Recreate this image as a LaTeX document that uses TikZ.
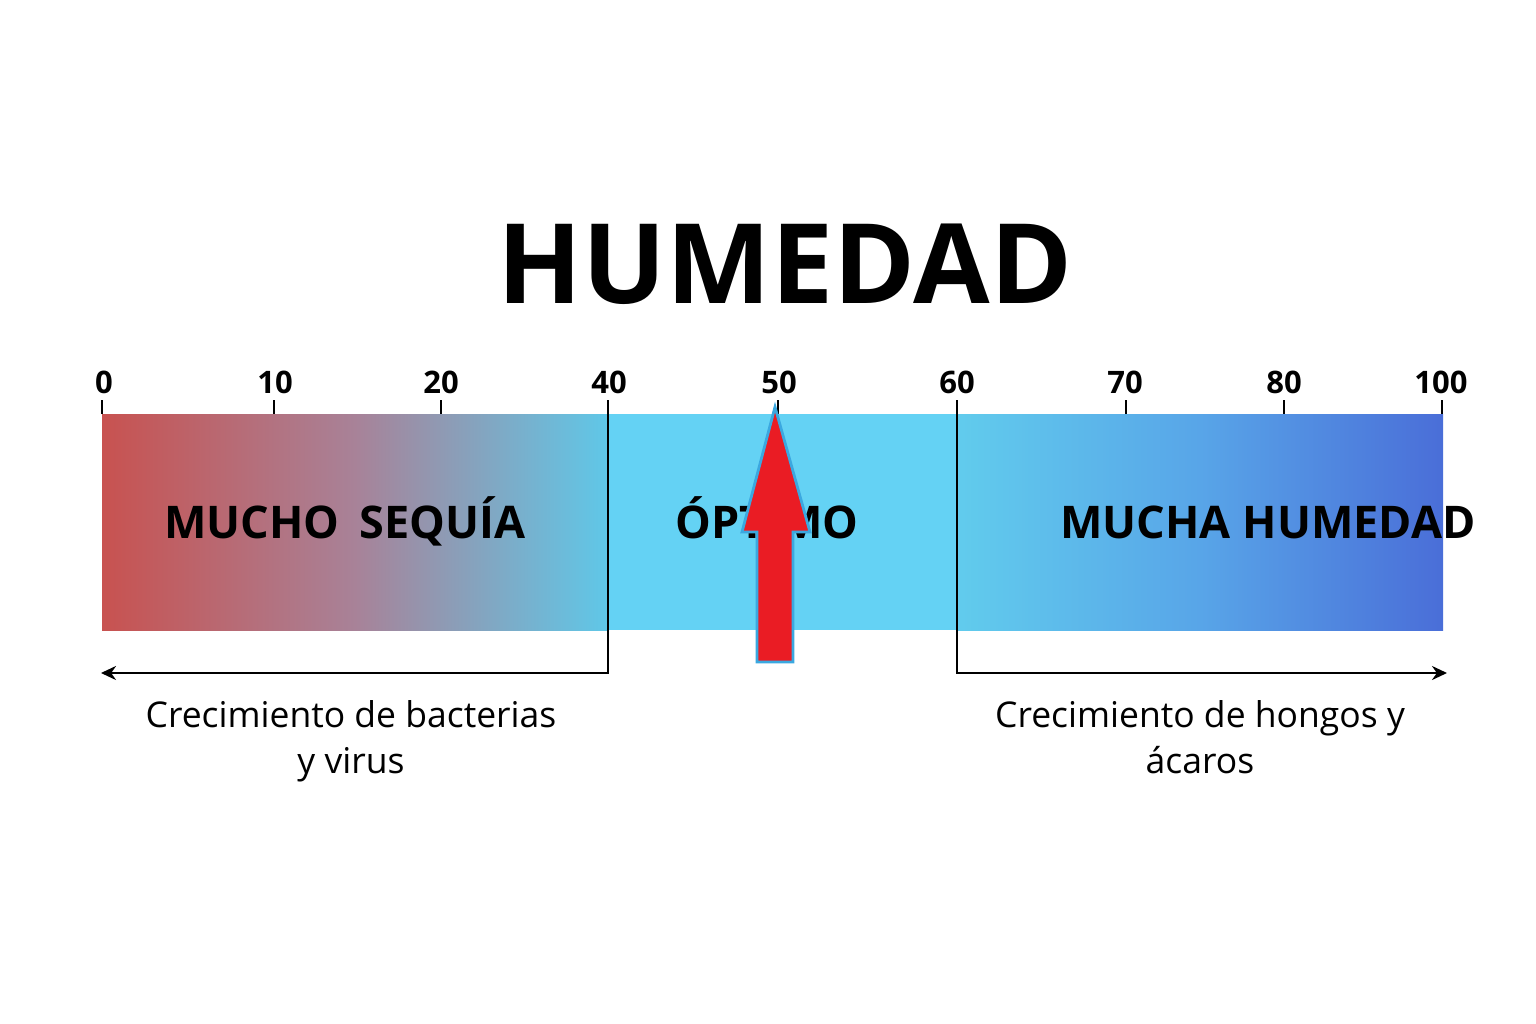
\documentclass[tikz,border=0pt]{standalone}
\usepackage{fontspec}
\setmainfont{Open Sans}
\usetikzlibrary{arrows.meta}
\definecolor{redL}{RGB}{200,82,80}
\definecolor{midL}{RGB}{168,130,152}
\definecolor{cyanM}{RGB}{100,210,244}
\definecolor{blueR}{RGB}{74,110,216}
\definecolor{midR}{RGB}{88,165,232}
\definecolor{arrRed}{RGB}{234,28,36}
\definecolor{arrEdge}{RGB}{59,168,224}
\tikzset{
  ticklbl/.style={font=\fontsize{31}{31}\selectfont\bfseries, anchor=base, inner sep=0pt},
  bandlbl/.style={font=\fontsize{45}{45}\selectfont\bfseries, anchor=base, inner sep=0pt},
  note/.style={font=\fontsize{35.5}{46}\selectfont, align=center, anchor=north, inner sep=0pt},
  tickmark/.style={line width=2.8pt, black},
  bracket/.style={line width=2.6pt, black, -{Stealth[length=15pt,width=14pt]}}
}
\begin{document}
\begin{tikzpicture}[x=1pt,y=1pt]
\useasboundingbox (0,0) rectangle (1536,-1024);
% bar segments
\shade[left color=redL, right color=cyanM!95!black, middle color=midL] (102,-414) rectangle (608,-630);
\fill[cyanM] (608,-414) rectangle (957,-630);
\shade[left color=cyanM!97!black, right color=blueR, middle color=midR] (957,-414) rectangle (1443,-630);
% title
\node[font=\fontsize{111}{111}\selectfont\bfseries, anchor=base, inner sep=0pt] (title) at (785,-303) {HUMEDAD};
% ticks
\foreach \px/\nm in {102/t0, 274/t10, 441/t20, 778/t50, 1126/t70, 1284/t80, 1442/t100}{
  \coordinate (\nm a) at (\px,-400);
  \coordinate (\nm b) at (\px,-414);
  \draw[tickmark] (\nm a) -- (\nm b);
}
\node[ticklbl] (l0) at (104,-393) {0};
\node[ticklbl] (l10) at (275,-393) {10};
\node[ticklbl] (l20) at (441,-393) {20};
\node[ticklbl] (l40) at (609,-393) {40};
\node[ticklbl] (l50) at (779,-393) {50};
\node[ticklbl] (l60) at (957,-393) {60};
\node[ticklbl] (l70) at (1125,-393) {70};
\node[ticklbl] (l80) at (1284,-393) {80};
\node[ticklbl] (l100) at (1441,-393) {100};
% brackets
\coordinate (b40top) at (608,-400);
\coordinate (b40bot) at (608,-673);
\coordinate (b40end) at (101,-673);
\coordinate (b60top) at (957,-400);
\coordinate (b60bot) at (957,-673);
\coordinate (b60end) at (1447,-673);
\draw[bracket] (b40top) -- (b40bot) -- (b40end);
\draw[bracket] (b60top) -- (b60bot) -- (b60end);
% band labels
\node[bandlbl] (seq) at (345,-538) {MUCHO\hspace{0.45em}SEQUÍA};
\node[bandlbl] (opt) at (767,-538) {ÓPTIMO};
\node[bandlbl] (hum) at (1268,-538) {MUCHA HUMEDAD};
% red arrow
\draw[fill=arrRed, draw=arrEdge, line width=2.8pt, line join=miter]
  (775,-407) -- (810,-532) -- (793,-532) -- (793,-662) -- (757,-662) -- (757,-532) -- (742,-532) -- cycle;
% notes
\node[note] (n1) at (351,-700) {Crecimiento de bacterias\\y virus};
\node[note] (n2) at (1200,-700) {Crecimiento de hongos y\\ácaros};
\end{tikzpicture}
\end{document}
